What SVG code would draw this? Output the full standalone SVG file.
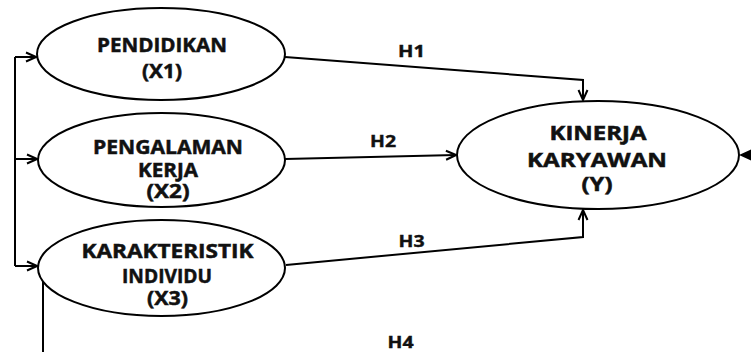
<svg xmlns="http://www.w3.org/2000/svg" width="751" height="352" viewBox="0 0 751 352">
<style>
.node ellipse{fill:#fff;stroke:#000;stroke-width:2}
.t{font-family:"Open Sans","Liberation Sans",sans-serif;font-weight:bold;font-size:19.5px;fill:#111;stroke:#111;stroke-width:0.5;text-anchor:middle}
.h{font-family:"Open Sans","Liberation Sans",sans-serif;font-weight:bold;font-size:16px;fill:#111;stroke:#111;stroke-width:0.4;text-anchor:middle}
.c path{fill:none;stroke:#000;stroke-width:2}
</style>
<defs>
<marker id="open" viewBox="0 0 12 12" refX="11" refY="6" markerWidth="12" markerHeight="12" orient="auto" markerUnits="userSpaceOnUse">
<path d="M1,1.5 L11,6 L1,10.5" fill="none" stroke="#000" stroke-width="2"/>
</marker>
</defs>
<g id="connectors" class="c">
<path d="M15,57 L15,266"/>
<path d="M15,57 L36,57" marker-end="url(#open)"/>
<path d="M15,159 L37,159" marker-end="url(#open)"/>
<path d="M15,266 L37,266" marker-end="url(#open)"/>
<path d="M285,57 L583,80 L583,100" marker-end="url(#open)"/>
<path d="M285,159 L456,155" marker-end="url(#open)"/>
<path d="M286,265 L583,237 L583,210" marker-end="url(#open)"/>
<path d="M43,282 L43,352"/>
<path d="M745,155 L751,155"/>
<polygon points="739,155 751,149.5 751,160.5" fill="#000"/>
</g>
<g id="x1" class="node">
<ellipse cx="161" cy="54" rx="124" ry="46"/>
<text class="t" x="162" y="52" textLength="130" lengthAdjust="spacingAndGlyphs">PENDIDIKAN</text>
<text class="t" x="162" y="78" textLength="40" lengthAdjust="spacingAndGlyphs">(X1)</text>
</g>
<g id="x2" class="node">
<ellipse cx="161.5" cy="160" rx="123.5" ry="47"/>
<text class="t" x="168" y="154" textLength="150" lengthAdjust="spacingAndGlyphs">PENGALAMAN</text>
<text class="t" x="168" y="177" textLength="60" lengthAdjust="spacingAndGlyphs">KERJA</text>
<text class="t" x="168" y="198" textLength="43" lengthAdjust="spacingAndGlyphs">(X2)</text>
</g>
<g id="x3" class="node">
<ellipse cx="161.5" cy="268" rx="123.5" ry="48"/>
<text class="t" x="167.5" y="258" textLength="172" lengthAdjust="spacingAndGlyphs">KARAKTERISTIK</text>
<text class="t" x="167" y="283" textLength="90" lengthAdjust="spacingAndGlyphs">INDIVIDU</text>
<text class="t" x="167.5" y="305" textLength="41" lengthAdjust="spacingAndGlyphs">(X3)</text>
</g>
<g id="y" class="node">
<ellipse cx="598" cy="155" rx="141" ry="54"/>
<text class="t" x="598" y="140" textLength="97" lengthAdjust="spacingAndGlyphs">KINERJA</text>
<text class="t" x="597" y="167" textLength="140" lengthAdjust="spacingAndGlyphs">KARYAWAN</text>
<text class="t" x="597" y="191" textLength="31" lengthAdjust="spacingAndGlyphs">(Y)</text>
</g>
<g id="labels">
<text class="h" x="411.5" y="57" textLength="27" lengthAdjust="spacingAndGlyphs">H1</text>
<text class="h" x="383" y="147" textLength="26" lengthAdjust="spacingAndGlyphs">H2</text>
<text class="h" x="411.5" y="247" textLength="26" lengthAdjust="spacingAndGlyphs">H3</text>
<text class="h" x="400.5" y="348" textLength="26" lengthAdjust="spacingAndGlyphs">H4</text>
</g>
</svg>
